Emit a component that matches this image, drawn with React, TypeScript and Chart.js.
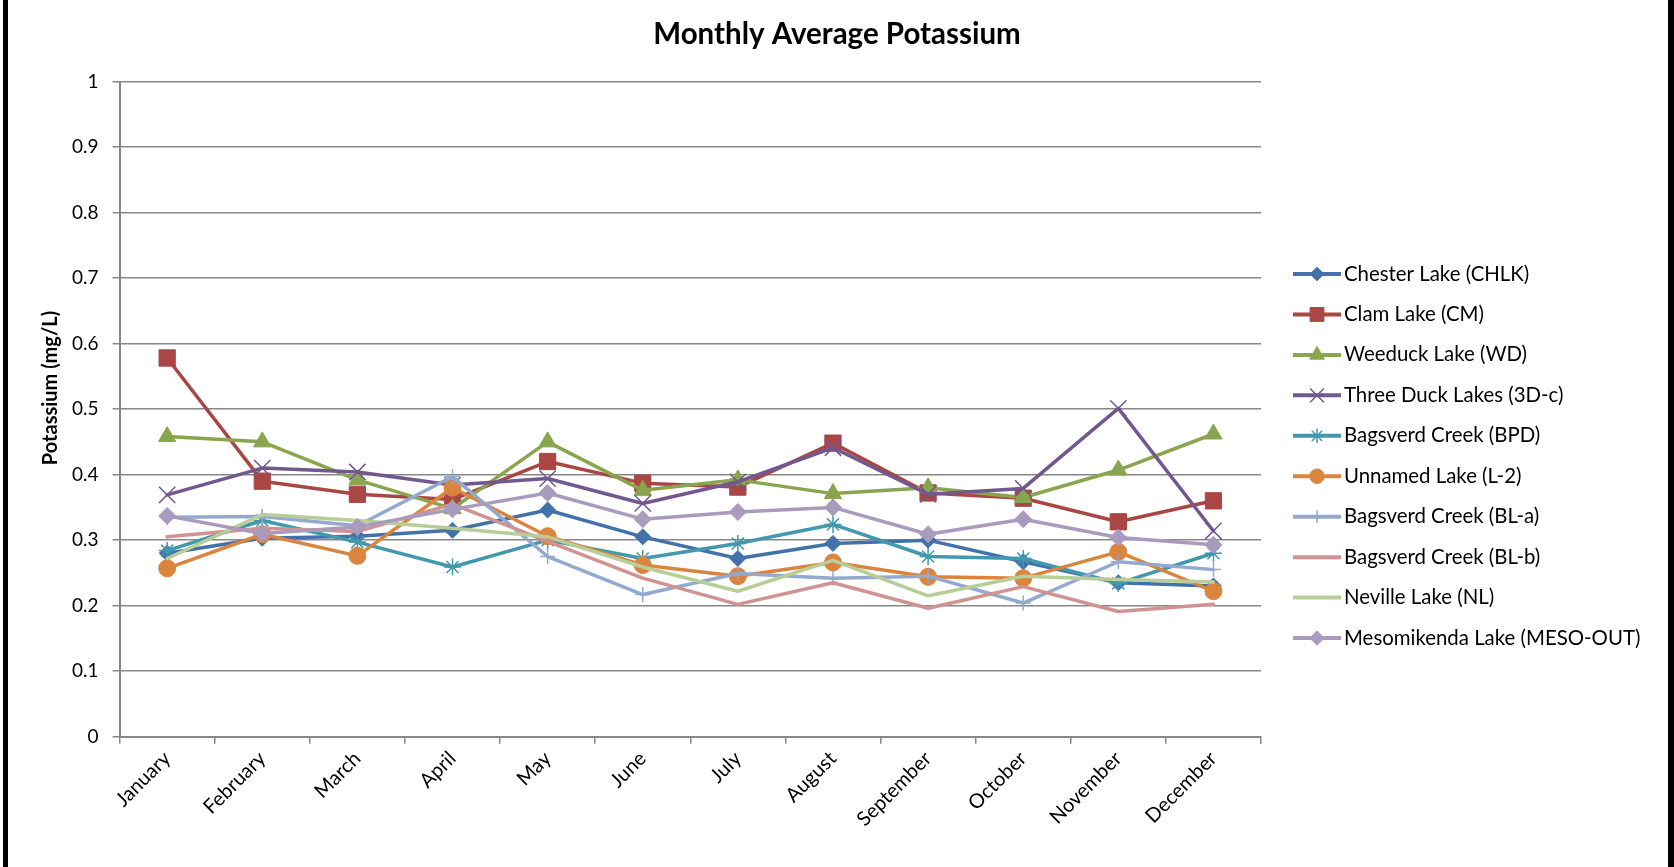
import React, { useEffect, useRef } from 'react';
import { Chart, registerables, layouts } from 'chart.js';
import { drawPoint } from 'chart.js/helpers';

Chart.register(...registerables);

const months = ['January', 'February', 'March', 'April', 'May', 'June', 'July', 'August', 'September', 'October', 'November', 'December'];

const seriesNames = [
  'Chester Lake (CHLK)',
  'Clam Lake (CM)',
  'Weeduck Lake (WD)',
  'Three Duck Lakes (3D-c)',
  'Bagsverd Creek (BPD)',
  'Unnamed Lake (L-2)',
  'Bagsverd Creek (BL-a)',
  'Bagsverd Creek (BL-b)',
  'Neville Lake (NL)',
  'Mesomikenda Lake (MESO-OUT)',
];

const chesterLake = [0.280, 0.303, 0.306, 0.315, 0.346, 0.305, 0.272, 0.295, 0.300, 0.267, 0.235, 0.230];
const clamLake = [0.578, 0.390, 0.370, 0.362, 0.420, 0.387, 0.381, 0.448, 0.372, 0.364, 0.328, 0.360];
const weeduckLake = [0.458, 0.450, 0.392, 0.348, 0.450, 0.376, 0.392, 0.371, 0.380, 0.365, 0.407, 0.462];
const threeDuckLakes = [0.369, 0.410, 0.404, 0.384, 0.394, 0.356, 0.389, 0.441, 0.370, 0.379, 0.501, 0.314];
const bagsverdBPD = [0.284, 0.330, 0.297, 0.259, 0.300, 0.272, 0.295, 0.324, 0.275, 0.272, 0.234, 0.280];
const unnamedLake = [0.257, 0.309, 0.276, 0.380, 0.306, 0.262, 0.245, 0.266, 0.244, 0.242, 0.282, 0.222];
const bagsverdBLa = [0.335, 0.336, 0.322, 0.397, 0.275, 0.217, 0.249, 0.242, 0.245, 0.204, 0.267, 0.255];
const bagsverdBLb = [0.305, 0.318, 0.313, 0.355, 0.298, 0.242, 0.202, 0.235, 0.196, 0.229, 0.191, 0.202];
const nevilleLake = [0.272, 0.339, 0.330, 0.318, 0.305, 0.259, 0.222, 0.269, 0.215, 0.245, 0.240, 0.236];
const mesomikendaLake = [0.337, 0.310, 0.320, 0.347, 0.372, 0.332, 0.343, 0.350, 0.309, 0.332, 0.304, 0.293];

const seriesValues = [chesterLake, clamLake, weeduckLake, threeDuckLakes, bagsverdBPD, unnamedLake, bagsverdBLa, bagsverdBLb, nevilleLake, mesomikendaLake];

const colors = ['#4372AA', '#AA4643', '#89A54E', '#71588F', '#4198AF', '#DB843D', '#93A9CF', '#D19392', '#B9CD96', '#A99BBD'];
const pointStyles: any[] = ['rectRot', 'rect', 'triangle', 'crossRot', 'star', 'circle', 'cross', 'circle', 'circle', 'rectRot'];
const pointRadii = [8, 11.5, 10, 11.5, 8.5, 8.5, 7.5, 0, 0, 8.5];
const strokeMarker = [false, false, false, true, true, false, true, false, false, false];

const TITLE_TEXT = 'Monthly Average Potassium';
const Y_TITLE = 'Potassium (mg/L)';
const FONT = 'Lato, "Open Sans", sans-serif';
const GRID = '#878787';

function makeLegendBox(chart: any) {
  const box: any = {
    position: 'right',
    weight: 1000,
    fullSize: false,
    options: { stackWeight: 1 },
    left: 0, top: 0, right: 0, bottom: 0, width: 0, height: 0,
    isHorizontal() { return false; },
    update(maxWidth: number, maxHeight: number) {
      this.width = 413;
      this.height = maxHeight;
    },
    draw() {
      const ctx = chart.ctx;
      ctx.save();
      const x0 = this.left + 32;
      const x1 = x0 + 48;
      const xm = (x0 + x1) / 2;
      chart.data.datasets.forEach((ds: any, i: number) => {
        const y = 274 + i * 40.45;
        ctx.strokeStyle = colors[i];
        ctx.fillStyle = colors[i];
        ctx.lineWidth = 4;
        ctx.lineCap = 'butt';
        ctx.beginPath();
        ctx.moveTo(x0, y);
        ctx.lineTo(x1, y);
        ctx.stroke();
        if (pointRadii[i] > 0) {
          ctx.lineWidth = strokeMarker[i] ? 1.5 : 1;
          drawPoint(ctx, { pointStyle: pointStyles[i], radius: pointRadii[i] * 0.85, rotation: 0, borderWidth: ctx.lineWidth } as any, xm, y);
        }
        ctx.fillStyle = '#000';
        ctx.font = `20.4px ${FONT}`;
        ctx.textAlign = 'left';
        ctx.textBaseline = 'middle';
        ctx.fillText(ds.label, x1 + 3, y);
      });
      ctx.restore();
    },
  };
  return box;
}

const excelLegend = {
  id: 'excelLegend',
  beforeInit(chart: any) {
    layouts.addBox(chart, makeLegendBox(chart));
  },
  afterDraw(chart: any) {
    const ctx = chart.ctx;
    ctx.save();
    ctx.translate(51, 388);
    ctx.rotate(-Math.PI / 2);
    ctx.fillStyle = '#000';
    ctx.font = `bold 20px ${FONT}`;
    ctx.textAlign = 'center';
    ctx.textBaseline = 'middle';
    ctx.fillText(Y_TITLE, 0, 0);
    ctx.restore();
  },
};

export default function App() {
  const canvasRef = useRef<HTMLCanvasElement | null>(null);

  useEffect(() => {
    const canvas = canvasRef.current;
    if (!canvas) return;
    const n = seriesNames.length;
    const chart = new Chart(canvas, {
      type: 'line',
      data: {
        labels: months,
        datasets: seriesNames.map((name, i) => ({
          label: name,
          data: seriesValues[i],
          borderColor: colors[i],
          backgroundColor: colors[i],
          borderWidth: 3.5,
          borderJoinStyle: 'round',
          borderCapStyle: 'round',
          tension: 0,
          fill: false,
          pointStyle: pointStyles[i],
          pointRadius: pointRadii[i],
          pointBackgroundColor: colors[i],
          pointBorderColor: colors[i],
          pointBorderWidth: strokeMarker[i] ? 1.5 : 1,
          order: n - 1 - i,
        })),
      },
      options: {
        animation: false,
        responsive: false,
        devicePixelRatio: 1,
        events: [],
        layout: { padding: 0 },
        plugins: {
          legend: { display: false },
          tooltip: { enabled: false },
          title: {
            display: true,
            text: TITLE_TEXT,
            color: '#000',
            font: { family: FONT, size: 29.5, weight: 'bold' },
            padding: { top: 16.3, bottom: 29.8 },
          },
        },
        scales: {
          x: {
            type: 'category',
            offset: true,
            grid: { offset: true, drawOnChartArea: false, drawTicks: true, tickLength: 7, color: GRID, lineWidth: 1.5 },
            border: { display: true, color: GRID, width: 2 },
            ticks: {
              autoSkip: false,
              maxRotation: 45,
              minRotation: 45,
              color: '#000',
              padding: 3,
              font: { family: FONT, size: 20 },
            },
            afterFit(scale: any) { scale.height = 130.3; },
          },
          y: {
            min: 0,
            max: 1,
            ticks: {
              stepSize: 0.1,
              color: '#000',
              padding: 14,
              font: { family: FONT, size: 19 },
              callback: (v: any) => Number(v).toFixed(1).replace(/\.0$/, ''),
            },
            grid: { color: GRID, lineWidth: 1.5, tickLength: 7, drawTicks: true },
            border: { display: true, color: GRID, width: 2 },
            afterFit(scale: any) { scale.width = 119.6; },
          },
        },
      } as any,
      plugins: [excelLegend],
    });
    return () => chart.destroy();
  }, []);

  return (
    <div style={{ position: 'fixed', left: 0, top: 0, width: 1674, height: 867, background: '#fff', overflow: 'hidden' }}>
      <canvas ref={canvasRef} width={1674} height={867} style={{ display: 'block', width: 1674, height: 867 }} />
      <div style={{ position: 'absolute', left: 3, top: 0, width: 5, height: 867, background: '#000' }} />
      <div style={{ position: 'absolute', left: 1668, top: 0, width: 6, height: 867, background: '#000' }} />
    </div>
  );
}
